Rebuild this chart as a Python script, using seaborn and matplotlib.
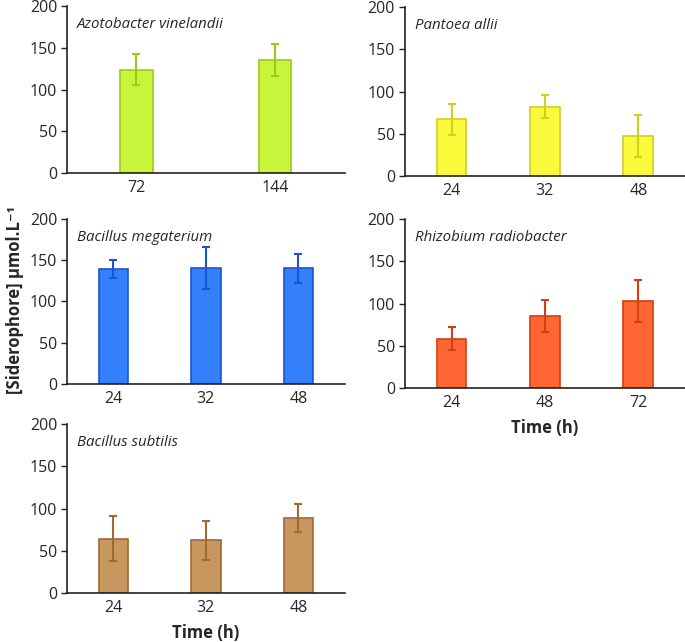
import numpy as np
import pandas as pd
import matplotlib
matplotlib.use("Agg")
import matplotlib.pyplot as plt
import seaborn as sns

# data (mean, sd)
azoto_time = ["72", "144"]
azoto_mean = [124, 135]
azoto_sd = [19, 19]

pantoea_time = ["24", "32", "48"]
pantoea_mean = [67, 82, 47.5]
pantoea_sd = [18, 13.5, 25]

megat_time = ["24", "32", "48"]
megat_mean = [139, 140.5, 140]
megat_sd = [11, 25, 18]

rhizo_time = ["24", "48", "72"]
rhizo_mean = [58.5, 85, 103]
rhizo_sd = [14, 19, 25]

subtilis_time = ["24", "32", "48"]
subtilis_mean = [64.5, 62.5, 88.5]
subtilis_sd = [27, 23, 16.5]

sns.set_theme(style="ticks")
plt.rcParams["font.family"] = ["Open Sans", "DejaVu Sans"]

fig = plt.figure(figsize=(6.85, 6.42), dpi=100)

panels = [
    # name, times, mean, sd, fill, edge, axes rect, bar width, xlabel
    ("Azotobacter vinelandii", azoto_time, azoto_mean, azoto_sd, "#c8f53c", "#9ccc10",
     [0.098, 0.7305, 0.405, 0.260], 0.235, False),
    ("Pantoea allii", pantoea_time, pantoea_mean, pantoea_sd, "#fafa3a", "#d0d020",
     [0.591, 0.7259, 0.409, 0.263], 0.32, False),
    ("Bacillus megaterium", megat_time, megat_mean, megat_sd, "#3380fa", "#1a55d0",
     [0.098, 0.4019, 0.405, 0.257], 0.32, False),
    ("Rhizobium radiobacter", rhizo_time, rhizo_mean, rhizo_sd, "#ff6633", "#d04010",
     [0.591, 0.3956, 0.409, 0.263], 0.32, True),
    ("Bacillus subtilis", subtilis_time, subtilis_mean, subtilis_sd, "#c8965f", "#a06a35",
     [0.098, 0.0763, 0.405, 0.263], 0.32, True),
]

for name, times, mean, sd, fill, edge, rect, bw, show_xlabel in panels:
    ax = fig.add_axes(rect)
    df = pd.DataFrame({"time": times, "value": mean})
    sns.barplot(data=df, x="time", y="value", color=fill, width=bw,
                errorbar=None, edgecolor=edge, linewidth=1.2, saturation=1, ax=ax)
    ax.errorbar(np.arange(len(times)), mean, yerr=sd, fmt="none",
                ecolor=edge, elinewidth=1.5, capsize=3, capthick=1.5)
    ax.set_ylim(0, 200)
    ax.set_yticks([0, 50, 100, 150, 200])
    ax.set_xlim(-0.5, len(times) - 0.5)
    sns.despine(ax=ax)
    for side in ("left", "bottom"):
        ax.spines[side].set_color("#222222")
        ax.spines[side].set_linewidth(1.2)
    ax.tick_params(axis="y", length=4, width=1, labelsize=11.5, pad=3, color="#222222")
    ax.tick_params(axis="x", length=0, labelsize=11.5, pad=5)
    ax.set_ylabel("")
    if show_xlabel:
        ax.set_xlabel("Time (h)", fontsize=12, fontweight="bold", labelpad=6)
    else:
        ax.set_xlabel("")
    ax.text(0.035, 0.89, name, transform=ax.transAxes, fontsize=10.8,
            fontstyle="italic", va="center", ha="left")

fig.text(0.022, 0.533, "[Siderophore] µmol.L⁻¹", rotation=90,
         fontsize=12, fontweight="bold", va="center", ha="center")

fig.savefig("out.png", dpi=100)
